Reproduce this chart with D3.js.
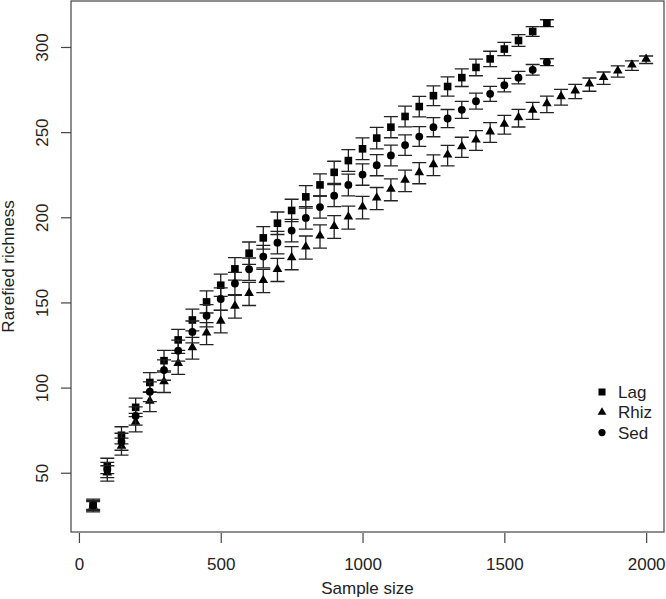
<!DOCTYPE html>
<html lang="en">
<head>
<meta charset="utf-8">
<title>Rarefied richness</title>
<script src="https://d3js.org/d3.v7.min.js"></script>
<style>
  body { margin: 0; background: #fff; }
  text { font-family: "Liberation Sans", Arial, sans-serif; fill: #222; }
</style>
</head>
<body>
<div id="chart"></div>
<script>
var width = 666, height = 599
var plot = { left: 71, right: 664, top: 1, bottom: 532 }
var fontSize = 17

// sample sizes (x)
var sizes = [50, 100, 150, 200, 250, 300, 350, 400, 450, 500,
  550, 600, 650, 700, 750, 800, 850, 900, 950, 1000,
  1050, 1100, 1150, 1200, 1250, 1300, 1350, 1400, 1450, 1500,
  1550, 1600, 1650, 1700, 1750, 1800, 1850, 1900, 1950, 2000]

var lag = [31.5, 54, 72, 88.4, 103, 115.8, 128, 139.7, 150.3, 160.1,
  169.7, 178.9, 187.9, 196.5, 204, 212, 219, 226.4, 233.3, 240.2,
  246.5, 252.9, 259.2, 265, 271.4, 276.8, 282, 288, 293, 298.8,
  303.8, 309.1, 314]
var lagErr = [3, 4.5, 5, 5.4, 5.8, 6, 6.2, 6.4, 6.5, 6.5,
  6.6, 6.6, 6.6, 6.6, 6.6, 6.6, 6.5, 6.5, 6.4, 6.4,
  6.3, 6.2, 6.1, 6.0, 5.8, 5.6, 5.2, 4.9, 4.5, 3.9,
  3.4, 2.9, 2.0]

var rhiz = [30, 49.6, 65.3, 79.4, 91.7, 103.1, 113.9, 123.1, 131.7, 138.7,
  147.5, 155, 162.6, 169.1, 176, 182.2, 188.7, 194.3, 199.8, 205.7,
  211, 216.1, 221.4, 225.9, 230.6, 236.2, 241.1, 245.1, 249.8, 254.3,
  258.2, 262.5, 266.3, 270.5, 273.9, 277.9, 281.7, 285.6, 289.1, 292.5]
var rhizErr = [3, 4.5, 5, 5.4, 5.8, 6, 6.2, 6.4, 6.5, 6.6,
  6.7, 6.8, 6.8, 6.8, 6.8, 6.8, 6.8, 6.7, 6.7, 6.6,
  6.5, 6.4, 6.3, 6.2, 6.1, 6.0, 5.9, 5.8, 5.8, 5.5,
  5.2, 5.0, 4.8, 4.6, 4.2, 3.9, 3.6, 3.3, 2.8, 2.2]

var sed = [30.8, 51.6, 68.2, 83.3, 97.6, 110.3, 121.7, 132.7, 142.2, 152,
  161.1, 169.5, 176.9, 185.1, 192.2, 199.6, 206, 212.7, 219, 225.1,
  230.6, 236.3, 242.4, 247.4, 252.9, 258, 263.1, 268.2, 272.5, 277.6,
  282, 286.6, 291.1]
var sedErr = [3, 4.5, 5, 5.4, 5.8, 6, 6.2, 6.4, 6.5, 6.5,
  6.6, 6.6, 6.6, 6.6, 6.6, 6.6, 6.5, 6.5, 6.4, 6.3,
  6.2, 6.1, 6.0, 5.8, 5.6, 5.3, 5.0, 4.7, 4.4, 4.0,
  3.7, 3.1, 2.0]

var xTicks = [0, 500, 1000, 1500, 2000]
var yTicks = [50, 100, 150, 200, 250, 300]

var series = [
  { name: "Lag", values: lag, err: lagErr, shape: d3.symbolSquare, size: 58 },
  { name: "Rhiz", values: rhiz, err: rhizErr, shape: d3.symbolTriangle, size: 40 },
  { name: "Sed", values: sed, err: sedErr, shape: d3.symbolCircle, size: 48 }
]

var x = d3.scaleLinear().domain([-28, 2063]).range([plot.left, plot.right])
var y = d3.scaleLinear().domain([15.2, 327]).range([plot.bottom, plot.top])

var svg = d3.select("#chart").append("svg")
  .attr("width", width)
  .attr("height", height)

// frame
svg.append("rect")
  .attr("x", plot.left).attr("y", plot.top)
  .attr("width", plot.right - plot.left)
  .attr("height", plot.bottom - plot.top)
  .attr("fill", "none").attr("stroke", "#444").attr("stroke-width", 1.2)

// x axis
var xAxis = svg.append("g")
  .attr("transform", "translate(0," + (plot.bottom + 1) + ")")
  .call(d3.axisBottom(x).tickValues(xTicks).tickSize(10).tickPadding(15).tickFormat(d3.format("d")))
xAxis.select(".domain").remove()
xAxis.selectAll("line").attr("stroke", "#444").attr("stroke-width", 1.2)
xAxis.selectAll("text").attr("font-size", fontSize).attr("fill", "#222")
  .style("font-family", '"Liberation Sans", Arial, sans-serif')

// y axis
var yAxis = svg.append("g")
  .attr("transform", "translate(" + plot.left + ",0)")
  .call(d3.axisLeft(y).tickValues(yTicks).tickSize(10).tickFormat(d3.format("d")))
yAxis.select(".domain").remove()
yAxis.selectAll("line").attr("stroke", "#444").attr("stroke-width", 1.2)
yAxis.selectAll("text")
  .attr("font-size", fontSize).attr("fill", "#222")
  .style("font-family", '"Liberation Sans", Arial, sans-serif')
  .attr("x", null).attr("dy", null)
  .attr("text-anchor", "middle")
  .attr("transform", "translate(-23,0) rotate(-90)")

// axis titles
svg.append("text")
  .attr("x", (plot.left + plot.right) / 2).attr("y", 594)
  .attr("text-anchor", "middle").attr("font-size", fontSize)
  .text("Sample size")
svg.append("text")
  .attr("transform", "translate(14," + ((plot.top + plot.bottom) / 2) + ") rotate(-90)")
  .attr("text-anchor", "middle").attr("font-size", fontSize)
  .text("Rarefied richness")

// error bars and points
var cap = 7
series.forEach(function (s) {
  var pts = s.values.map(function (v, i) {
    return { x: sizes[i], y: v, e: s.err[i] }
  })
  var g = svg.append("g")
  g.selectAll("path.bar")
    .data(pts)
    .enter()
    .append("path")
    .attr("class", "bar")
    .attr("d", function (d) {
      var px = x(d.x), hi = y(d.y + d.e), lo = y(d.y - d.e)
      return "M" + px + "," + hi + "V" + lo +
        "M" + (px - cap) + "," + hi + "H" + (px + cap) +
        "M" + (px - cap) + "," + lo + "H" + (px + cap)
    })
    .attr("fill", "none")
    .attr("stroke", "#222")
    .attr("stroke-width", 1.3)
  g.selectAll("path.pt")
    .data(pts)
    .enter()
    .append("path")
    .attr("class", "pt")
    .attr("d", d3.symbol().type(s.shape).size(s.size))
    .attr("transform", function (d) {
      var off = s.shape === d3.symbolTriangle ? -0.8 : 0
      return "translate(" + x(d.x) + "," + (y(d.y) + off) + ")"
    })
    .attr("fill", "#000")
})

// legend
var legend = svg.append("g").attr("transform", "translate(602,392)")
series.forEach(function (s, i) {
  var row = legend.append("g").attr("transform", "translate(0," + (i * 20.3) + ")")
  row.append("path")
    .attr("d", d3.symbol().type(s.shape).size(s.size * 0.85))
    .attr("fill", "#000")
  row.append("text")
    .attr("x", 16).attr("y", 6)
    .attr("font-size", fontSize)
    .text(s.name)
})
</script>
</body>
</html>
